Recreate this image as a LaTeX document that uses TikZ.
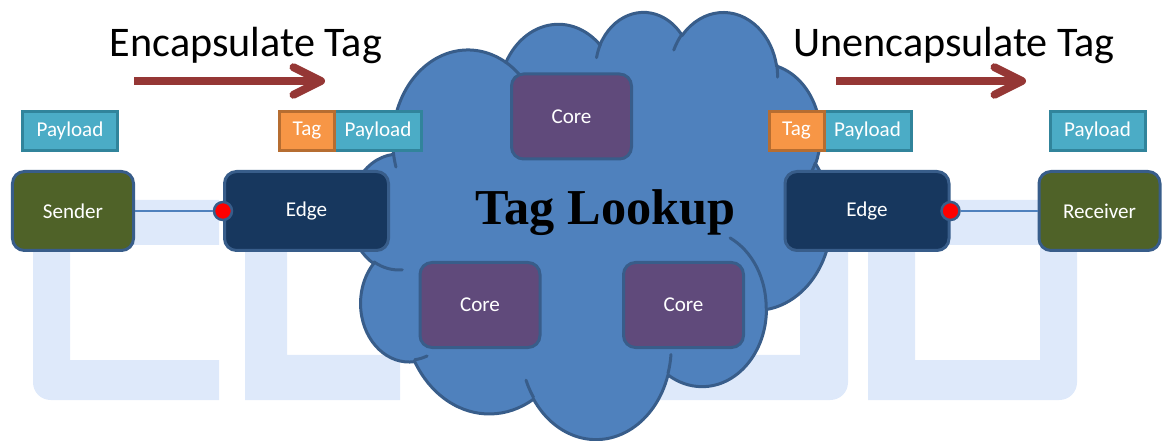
\documentclass[tikz,border=0pt]{standalone}
\usepackage{fontspec}
\setmainfont{Carlito}
\newfontfamily\lookupfont{Liberation Serif}
\usepackage{xcolor}
\usepackage{tikz}
\usetikzlibrary{arrows.meta, positioning}

\definecolor{cloudfill}{HTML}{4F81BD}
\definecolor{boxline}{HTML}{385D8A}
\definecolor{corefill}{HTML}{604A7B}
\definecolor{edgefill}{HTML}{17375E}
\definecolor{hostfill}{HTML}{4F6228}
\definecolor{payfill}{HTML}{4BACC6}
\definecolor{payline}{HTML}{31849B}
\definecolor{tagfill}{HTML}{F79646}
\definecolor{tagline}{HTML}{B66D31}
\definecolor{arrowred}{HTML}{953735}
\definecolor{wmblue}{HTML}{DEE9FA}

\begin{document}
\begin{tikzpicture}[
    x=0.2mm, y=-0.2mm,
    hostbox/.style={rectangle, rounded corners=2.4mm, draw=boxline, line width=0.6mm, fill=hostfill, minimum width=24.2mm, minimum height=15.8mm, text=white, font=\fontsize{12}{14}\selectfont},
    edgebox/.style={hostbox, fill=edgefill, minimum width=32.8mm},
    corebox/.style={hostbox, fill=corefill, minimum width=24mm, minimum height=17mm},
    payload/.style={rectangle, draw=payline, line width=0.6mm, fill=payfill, minimum width=19mm, minimum height=7.8mm, outer sep=0pt, text=white, font=\fontsize{12}{14}\selectfont},
    tagbox/.style={payload, draw=tagline, fill=tagfill, minimum width=11mm},
    port/.style={circle, draw=boxline, line width=0.5mm, fill=red, minimum size=3.6mm, inner sep=0pt},
    link/.style={draw=cloudfill, line width=0.3mm},
    flow/.style={draw=arrowred, line width=1.6mm, -{Straight Barb[length=5.5mm, width=5.5mm, round]}},
    caption/.style={anchor=base, font=\fontsize{24}{28}\selectfont},
    lookup/.style={anchor=base, font=\lookupfont\bfseries\fontsize{28.6}{32}\selectfont},
    cloudshape/.style={draw=boxline, line width=0.6mm, fill=cloudfill, line join=round},
    cloudseam/.style={draw=boxline, line width=0.6mm, line cap=round},
    wmark/.style={fill=wmblue, draw=none}
]
\useasboundingbox (0,0) rectangle (1163,441);

% Watermark letters
\fill[wmark] (219,200) -- (33,200) [rounded corners=10] -- (33,400) [sharp corners] -- (219,400) -- (219,360) -- (70,360) -- (70,245) -- (219,245) -- cycle;
\fill[wmark] (245,200) -- (287,200) -- (287,355) -- (400,355) -- (400,400) -- (245,400) -- cycle;
\fill[wmark] (640,355) -- (800,355) -- (800,200) -- (848,200) [rounded corners=10] -- (848,400) [sharp corners] -- (640,400) -- cycle;
\fill[wmark, even odd rule] (868,200) [rounded corners=10] -- (1077,200) -- (1077,400) [sharp corners] -- (868,400) -- cycle
    (915,245) -- (1040,245) -- (1040,360) -- (915,360) -- cycle;

% Cloud
\begin{scope}[shift={(350,11)}, x=2.2269mm, y=-1.9769mm]
\draw[cloudshape] (3.900,14.370)
    arc[start angle=-187.75, delta angle=128.10, x radius=6.753, y radius=9.190]
    arc[start angle=-152.02, delta angle=106.56, x radius=5.333, y radius=7.267]
    arc[start angle=-153.48, delta angle=116.15, x radius=4.365, y radius=5.945]
    arc[start angle=-139.71, delta angle=129.49, x radius=4.857, y radius=6.595]
    arc[start angle=-74.78, delta angle=97.99, x radius=5.333, y radius=7.273]
    arc[start angle=-37.53, delta angle=119.39, x radius=6.775, y radius=9.220]
    arc[start angle=0.46, delta angle=121.48, x radius=5.785, y radius=7.867]
    arc[start angle=16.84, delta angle=129.39, x radius=6.752, y radius=9.215]
    arc[start angle=59.04, delta angle=91.12, x radius=7.720, y radius=10.543]
    arc[start angle=-276.70, delta angle=139.81, x radius=4.360, y radius=5.918]
    arc[start angle=-239.63, delta angle=143.74, x radius=4.345, y radius=5.945]
    -- cycle;
\draw[cloudseam]
    (4.693,26.177) arc[start angle=85.54, delta angle=34.83, x radius=4.345, y radius=5.945]
    (6.928,34.899) arc[start angle=68.25, delta angle=15.05, x radius=4.360, y radius=5.918]
    (16.478,39.090) arc[start angle=146.23, delta angle=12.24, x radius=6.752, y radius=9.215]
    (28.827,34.751) arc[start angle=4.74, delta angle=12.10, x radius=6.752, y radius=9.215]
    (34.129,22.954) arc[start angle=-64.00, delta angle=64.46, x radius=5.785, y radius=7.867]
    (41.798,15.354) arc[start angle=23.21, delta angle=26.44, x radius=5.333, y radius=7.273]
    (38.324,5.426) arc[start angle=-10.22, delta angle=11.04, x radius=4.857, y radius=6.595]
    (29.078,3.952) arc[start angle=-156.28, delta angle=16.57, x radius=4.857, y radius=6.595]
    (22.141,4.720) arc[start angle=-167.72, delta angle=14.24, x radius=4.365, y radius=5.945]
    (14.000,5.192) arc[start angle=-59.65, delta angle=13.92, x radius=6.753, y radius=9.190]
    (4.127,15.789) arc[start angle=163.19, delta angle=9.06, x radius=6.753, y radius=9.190];
\end{scope}

% Hosts and edges
\node[hostbox] (sender) at (73,211) {Sender};
\node[edgebox] (edgeL) at (306.5,211) {Edge};
\node[edgebox] (edgeR) at (867,211) {Edge};
\node[hostbox] (receiver) at (1099.5,211) {Receiver};

% Ports and links
\node[port] (portL) at (edgeL.west) {};
\node[port] (portR) at (edgeR.east) {};
\draw[link] (sender) -- (portL);
\draw[link] (portR) -- (receiver);

% Core routers
\node[corebox] (coreT) at (571.5,116.5) {Core};
\node[corebox] (coreBL) at (480,305) {Core};
\node[corebox] (coreBR) at (683.5,305) {Core};
\node[lookup] (lookup) at (605.5,225) {Tag Lookup};

% Packets
\node[payload] (payS) at (70,131) {Payload};
\node[payload, minimum width=17.4mm] (payL) at (378,131) {Payload};
\node[tagbox, left=0pt of payL] (tagL) {Tag};
\node[payload, minimum width=17.4mm] (payR) at (867.5,131) {Payload};
\node[tagbox, left=0pt of payR] (tagR) {Tag};
\node[payload] (payD) at (1097.5,131) {Payload};

% Captions and direction arrows
\node[caption] (encap) at (246,57) {Encapsulate Tag};
\node[caption] (unencap) at (954,57) {Unencapsulate Tag};
\coordinate (encA) at (134,81);
\coordinate (encB) at (325,81);
\coordinate (unencA) at (836,81);
\coordinate (unencB) at (1026,81);
\draw[flow] (encA) -- (encB);
\draw[flow] (unencA) -- (unencB);

\end{tikzpicture}
\end{document}
